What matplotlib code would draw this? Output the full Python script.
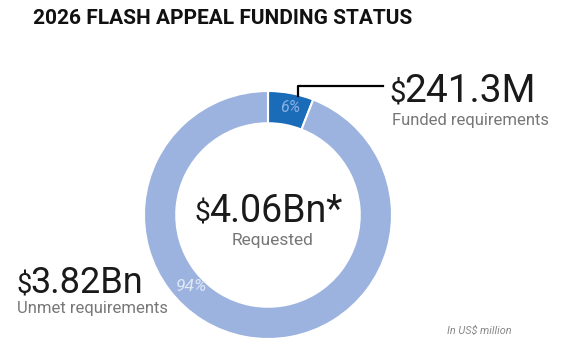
import matplotlib.pyplot as plt

labels = ['Funded requirements', 'Unmet requirements']
amounts = [241.3, 3820.0]   # US$ million
pct_labels = ['6%', '94%']
funded_txt = '241.3M'
unmet_txt = '3.82Bn'
requested_txt = '4.06Bn*'

colors = ['#1B6CB8', '#9CB3DF']

plt.rcParams['font.family'] = ['Roboto', 'DejaVu Sans']

fig = plt.figure(figsize=(5.67, 3.57), dpi=100)
W, H = 567, 357

def px(x, y):
    return x / W, 1 - y / H

# donut axes: center (268, 215)
cx, cy, r = 268, 215, 124
ax = fig.add_axes([(cx - r) / W, 1 - (cy + r) / H, 2 * r / W, 2 * r / H])
wedges, _ = ax.pie(amounts, colors=colors, startangle=90, counterclock=False,
                   wedgeprops=dict(width=0.26, edgecolor='white', linewidth=1.5))
ax.set_aspect('equal')
ax.set_xlim(-1, 1)
ax.set_ylim(-1, 1)

# percent labels inside ring
ax.text(0.18, 0.87, pct_labels[0], color='#8DB0E2', fontsize=11.5, style='italic',
        ha='center', va='center')
ax.text(-0.62, -0.58, pct_labels[1], color='#E2E9F6', fontsize=12.5, style='italic',
        ha='center', va='center')

# leader line for funded segment
fig.lines.append(plt.Line2D([298 / W, 298 / W, 383 / W],
                            [1 - 96 / H, 1 - 86 / H, 1 - 86 / H],
                            color='black', linewidth=1.6, transform=fig.transFigure))

fig.text(*px(33, 19), '2026 FLASH APPEAL FUNDING STATUS', fontsize=15,
         fontweight='bold', color='#111111', ha='left', va='center')

def money(x, y, s, size):
    # small dollar sign sitting on the same baseline as the figures
    fig.text(*px(x, y), '$', fontsize=size * 0.75, color='#1a1a1a',
             ha='left', va='baseline')
    fig.text(*px(x + size * 0.56, y), s, fontsize=size, color='#1a1a1a',
             ha='left', va='baseline')

money(389, 102, funded_txt, 28)
fig.text(*px(392, 120), labels[0], fontsize=12, color='#777777', ha='left', va='center')

money(194, 222, requested_txt, 27)
fig.text(*px(273, 240), 'Requested', fontsize=12.5, color='#777777', ha='center', va='center')

money(16, 293, unmet_txt, 26)
fig.text(*px(17, 309), labels[1], fontsize=12, color='#777777', ha='left', va='center')

fig.text(*px(447, 331), 'In US$ million', fontsize=7.8, color='#888888',
         style='italic', ha='left', va='center')

fig.savefig('out.png', dpi=100)
